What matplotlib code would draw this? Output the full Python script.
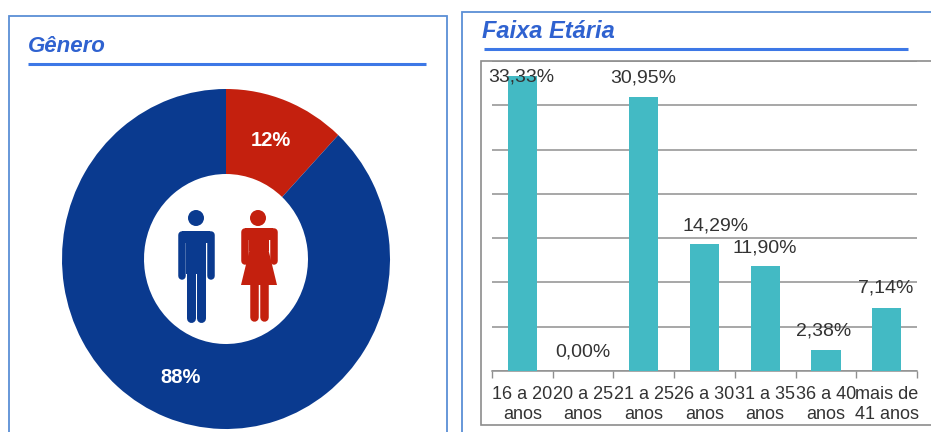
import matplotlib
matplotlib.use("Agg")
import matplotlib.pyplot as plt
from matplotlib.patches import Rectangle, Circle, Polygon

W, H = 931, 432

plt.rcParams['font.family'] = ['Liberation Sans', 'DejaVu Sans']

# gender donut
gender_values = [12, 88]
gender_colors = ['#c4200e', '#0a3a8f']

# age bars
age_labels = ['16 a 20\nanos', '20 a 25\nanos', '21 a 25\nanos', '26 a 30\nanos',
              '31 a 35\nanos', '36 a 40\nanos', 'mais de\n41 anos']
age_values = [33.33, 0.00, 30.95, 14.29, 11.90, 2.38, 7.14]
age_text = ['33,33%', '0,00%', '30,95%', '14,29%', '11,90%', '2,38%', '7,14%']
y_ticks = [0, 5, 10, 15, 20, 25, 30, 35]

# label shifts in pixels, the labels do not sit exactly over the bars
label_dx = [-1, 0, -1, 11, 0, -2, -1]
label_dy = [-1, 19, 19, 18, 18, 19, 20]

BLUE = '#0a3a8f'
RED = '#c4200e'
TEAL = '#43bac4'
PANEL = '#5b8fd6'
RULE = '#3d78e6'
TITLE = '#2f62d0'
GREY = '#8c8c8c'
TEXT = '#333333'


def px_axes(fig, x0, y0, x1, y1, **kw):
    # axes placed with reference pixels, y from the top
    return fig.add_axes([x0 / W, 1 - y1 / H, (x1 - x0) / W, (y1 - y0) / H], **kw)


fig = plt.figure(figsize=(W / 100, H / 100), dpi=100, facecolor='white')

# overlay in pixel coordinates for panels and titles
bg = fig.add_axes([0, 0, 1, 1], zorder=0)
bg.set_xlim(0, W)
bg.set_ylim(H, 0)
bg.axis('off')

bg.add_patch(Rectangle((8.5, 16), 438, 430, fc='white', ec=PANEL, lw=1.3))
bg.add_patch(Rectangle((461.5, 12), 490, 430, fc='white', ec=PANEL, lw=1.3))
bg.add_patch(Rectangle((481, 61), 470, 364, fc='white', ec=GREY, lw=1.2))
bg.plot([28, 426], [64, 64], color=RULE, lw=2.2, solid_capstyle='butt')
bg.plot([484, 908], [49, 49], color=RULE, lw=2.2, solid_capstyle='butt')
bg.text(28, 46, 'Gênero', fontsize=16, fontweight='bold', fontstyle='italic',
        color=TITLE, va='center', ha='left')
bg.text(482, 31, 'Faixa Etária', fontsize=17, fontweight='bold', fontstyle='italic',
        color=TITLE, va='center', ha='left')

# donut, slightly stretched vertically like the screenshot
ax1 = px_axes(fig, 62, 89, 390, 429, zorder=1)
wedges, texts, autotexts = ax1.pie(gender_values, colors=gender_colors, startangle=90,
                                   counterclock=False, radius=1, autopct='%.0f%%',
                                   pctdistance=0.75,
                                   wedgeprops={'width': 0.5, 'linewidth': 0})
for t in autotexts:
    t.set_color('white')
    t.set_fontsize(14.5)
    t.set_fontweight('bold')
ax1.set_aspect('auto')
ax1.set_xlim(-1, 1)
ax1.set_ylim(-1, 1)

# bars
ax2 = px_axes(fig, 492, 61, 917, 371, zorder=1)
ax2.patch.set_alpha(0)
x = range(len(age_values))
ax2.bar(x, age_values, width=0.48, color=TEAL, zorder=3)
ax2.set_xlim(-0.5, len(age_values) - 0.5)
ax2.set_ylim(0, 35)
ax2.set_yticks(y_ticks)
ax2.set_yticklabels([])
ax2.tick_params(axis='y', length=0)
ax2.grid(axis='y', color='#8f8f8f', lw=1.1, zorder=1)
for s in ['top', 'left', 'right']:
    ax2.spines[s].set_visible(False)
ax2.spines['bottom'].set_color('#8f8f8f')
ax2.spines['bottom'].set_linewidth(1.1)

ax2.set_xticks([i - 0.5 for i in range(len(age_values) + 1)])
ax2.set_xticklabels([])
ax2.tick_params(axis='x', length=5, width=1, color='#8f8f8f', direction='out')
for i, lab in enumerate(age_labels):
    ax2.annotate(lab, (i, 0), xytext=(0, -11), textcoords='offset points',
                 ha='center', va='top', fontsize=13, color=TEXT, linespacing=1.22,
                 annotation_clip=False)

for i, v in enumerate(age_values):
    ax2.annotate(age_text[i], (i, v),
                 xytext=(label_dx[i] * 0.72, label_dy[i] * 0.72),
                 textcoords='offset points', ha='center', va='center',
                 fontsize=14, color=TEXT, zorder=5, annotation_clip=False)

# icons in the middle of the donut
ic = fig.add_axes([0, 0, 1, 1], zorder=2)
ic.set_xlim(0, W)
ic.set_ylim(H, 0)
ic.axis('off')


def stroke(xs, ys, color, width):
    ic.plot(xs, ys, color=color, lw=width * 0.72, solid_capstyle='round',
            solid_joinstyle='round')


# man
ic.add_patch(Circle((196, 218), 8, fc=BLUE, ec='none'))
stroke([181.5, 181.5, 210.5, 210.5], [276, 235, 235, 276], BLUE, 7.5)
ic.add_patch(Rectangle((182, 231), 28, 12, fc=BLUE, ec='none'))
ic.add_patch(Rectangle((186, 232), 20, 42, fc=BLUE, ec='none'))
stroke([191, 191], [270, 318], BLUE, 9)
stroke([201, 201], [270, 318], BLUE, 9)

# woman
ic.add_patch(Circle((258, 218), 8, fc=RED, ec='none'))
stroke([244.5, 244.5, 273.5, 273.5], [261, 232, 232, 261], RED, 7.5)
ic.add_patch(Rectangle((245, 228), 28, 12, fc=RED, ec='none'))
ic.add_patch(Rectangle((249, 229), 20, 22, fc=RED, ec='none'))
ic.add_patch(Polygon([(250, 248), (268, 248), (277, 285), (241, 285)], fc=RED, ec='none'))
stroke([254, 254], [282, 317], RED, 8.5)
stroke([264, 264], [282, 317], RED, 8.5)

fig.savefig('out.png', dpi=100)
